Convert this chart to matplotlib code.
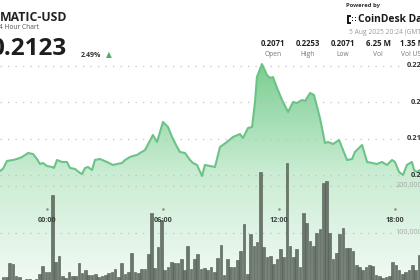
import matplotlib.pyplot as plt
import numpy as np
from matplotlib.colors import LinearSegmentedColormap
from matplotlib.patches import Rectangle

plt.rcParams['font.family'] = ['Open Sans', 'DejaVu Sans']

# price line: hours from 00:00 GMT, price in USD
hours = [-2.43, -2.28, -2.07, -1.76, -1.55, -1.29, -0.98, -0.72, -0.52, -0.36,
         -0.21, 0.0, 0.26, 0.36, 0.52, 0.78, 1.03, 1.19, 1.45, 1.71,
         1.81, 1.97, 2.12, 2.33, 2.48, 2.74, 3.10, 3.41, 3.62, 3.88,
         4.04, 4.29, 4.45, 4.66, 4.81, 5.07, 5.48, 5.69, 6.00, 6.26,
         6.47, 6.73, 6.88, 7.14, 7.40, 7.55, 7.76, 8.02, 8.17, 8.43,
         8.69, 8.95, 9.31, 9.62, 9.98, 10.14, 10.40, 10.61, 10.76, 10.86,
         11.12, 11.38, 11.54, 11.69, 11.90, 12.16, 12.47, 12.73, 12.93, 13.19,
         13.35, 13.61, 13.81, 14.12, 14.38, 14.54, 14.80, 15.11, 15.52, 15.78,
         15.93, 16.30, 16.56, 17.07, 17.33, 17.59, 17.85, 18.00, 18.21, 18.42,
         18.62, 18.88, 18.99, 19.14, 19.30]
price = [0.21062, 0.21089, 0.21199, 0.21212, 0.21226, 0.21253, 0.21308, 0.21294, 0.21226, 0.21157,
         0.21171, 0.21130, 0.21116, 0.21103, 0.21212, 0.21185, 0.21185, 0.21103, 0.21089, 0.21034,
         0.21020, 0.21103, 0.21116, 0.21075, 0.21212, 0.21226, 0.21185, 0.21144, 0.21157, 0.21171,
         0.21212, 0.21253, 0.21267, 0.21281, 0.21308, 0.21349, 0.21555, 0.21459, 0.21733, 0.21664,
         0.21527, 0.21390, 0.21322, 0.21308, 0.21212, 0.21171, 0.21144, 0.20993, 0.21144, 0.21130,
         0.21116, 0.21390, 0.21459, 0.21527, 0.21568, 0.21514, 0.21651, 0.21664, 0.22007, 0.22349,
         0.22527, 0.22377, 0.22336, 0.22349, 0.22199, 0.22034, 0.21870, 0.22007, 0.21993, 0.22034,
         0.22020, 0.22130, 0.22103, 0.21788, 0.21445, 0.21459, 0.21431, 0.21486, 0.21212, 0.21226,
         0.21322, 0.21418, 0.21185, 0.21157, 0.21185, 0.21144, 0.21212, 0.21185, 0.21048, 0.21007,
         0.21144, 0.21185, 0.21075, 0.21048, 0.21075]

# volume per bar, thousands of MATIC
volume = [6, 6, 36, 34, 9, 6, 1, 2, 2, 1,
          2, 13, 30, 17, 17, 181, 38, 51, 9, 4,
          17, 9, 9, 36, 15, 21, 11, 11, 13, 6,
          9, 11, 15, 17, 23, 6, 36, 13, 17, 57,
          17, 15, 23, 23, 55, 143, 26, 70, 128, 21,
          28, 38, 36, 36, 45, 21, 72, 23, 45, 55,
          23, 26, 21, 28, 17, 47, 74, 11, 45, 28,
          28, 43, 62, 119, 13, 98, 72, 81, 230, 70,
          49, 51, 34, 45, 66, 49, 249, 72, 49, 66,
          28, 143, 121, 83, 72, 100, 109, 206, 211, 100,
          45, 57, 98, 111, 68, 68, 62, 32, 28, 21,
          28, 32, 30, 11, 9, 4, 6, 9, 38, 32,
          21, 13, 17, 21, 32, 21, 53]
bar_start = -2.28
bar_step = 0.1708

price_ticks = [0.225, 0.22, 0.215, 0.21]
price_labels = ['0.225', '0.22', '0.215', '0.21']
vol_ticks = [200, 100]
vol_labels = ['200,000', '100,000']
time_ticks = [0, 6, 12, 18]
time_labels = ['00:00', '06:00', '12:00', '18:00']

stat_values = ['0.2071', '0.2253', '0.2071', '6.25 M', '1.35 M']
stat_names = ['Open', 'High', 'Low', 'Vol', 'Vol USD']

W, H = 420, 280
def fx(x):
    return x / W
def fy(y):
    return 1 - y / H

fig = plt.figure(figsize=(4.2, 2.8), dpi=100)
ax = fig.add_axes([0, 0, 1, 1])
x0, x1 = -2.431, 19.296
y0, y1 = 0.19568, 0.23404
grid_end = 18.3

# gradient fill under the price line
cmap = LinearSegmentedColormap.from_list('fillg', ['#f1faf3', '#c9ecd2', '#7acd91'])
grad = np.linspace(0, 1, 256).reshape(-1, 1)
poly = ax.fill_between(hours, price, y0, color='none', lw=0)
img = ax.imshow(grad, extent=[x0, x1, y0, 0.2255], origin='lower', aspect='auto',
                cmap=cmap, zorder=1)
img.set_clip_path(poly.get_paths()[0], transform=ax.transData)

ax.hlines(price_ticks, x0, grid_end, colors='#c2c2c2', linestyles=(0, (1, 5)), lw=0.9, zorder=2)
ax.plot(hours, price, color='#6cc387', lw=1.5, zorder=3, solid_joinstyle='round')
ax.set_xlim(x0, x1)
ax.set_ylim(y0, y1)
ax.axis('off')

ax2 = fig.add_axes([0, 0, 1, 1])
ax2.set_xlim(x0, x1)
ax2.set_ylim(0, 595.7)
ax2.patch.set_alpha(0)
ax2.axis('off')
ax2.hlines(vol_ticks, x0, grid_end, colors='#c2c2c2', linestyles=(0, (1, 5)), lw=0.9, zorder=1)
bar_x = bar_start + np.arange(len(volume)) * bar_step
ax2.bar(bar_x, volume, width=bar_step * 0.8, color='#6b776c', edgecolor='#4e584f',
        linewidth=0.4, zorder=2)

# axis labels on the right, cut by the frame as in the source
for t, lab in zip(price_ticks, price_labels):
    ax.text(1.014, t, lab, transform=ax.get_yaxis_transform(), ha='right', va='center',
            fontsize=5.4, fontweight='bold', color='#333333', zorder=5)
for t, lab in zip(vol_ticks, vol_labels):
    ax2.text(1.006, t, lab, transform=ax2.get_yaxis_transform(), ha='right', va='center',
             fontsize=5.2, color='#a8a8a8', zorder=5)

# time labels
for t, lab in zip(time_ticks, time_labels):
    ax2.text(t, fy(220), lab, transform=ax2.get_xaxis_transform(), ha='center', va='center',
             fontsize=5.2, fontweight='bold', color='#3c4040', zorder=5)
    ax2.plot([t], [fy(209)], transform=ax2.get_xaxis_transform(), marker='o', ms=0.8,
             color='#888888', zorder=5)

# header, left
fig.text(fx(-0.5), fy(21), 'MATIC-USD', fontsize=8.8, fontweight='bold', color='#222222',
         va='baseline')
fig.text(fx(-5), fy(29), '24 Hour Chart', fontsize=4.8, color='#555555', va='baseline')
fig.text(fx(-10), fy(55), '0.2123', fontsize=17.5, fontweight='bold', color='#1e1e1e',
         va='baseline')
fig.text(fx(81), fy(57), '2.49%', fontsize=5, fontweight='bold', color='#333333',
         va='baseline')
fig.text(fx(106), fy(57.5), '▲', fontsize=5.5, color='#4caf62', va='baseline',
         family='DejaVu Sans')

# header, right
fig.text(fx(346), fy(6), 'Powered by', fontsize=4.2, fontweight='bold', color='#333333',
         va='center')
fig.text(fx(358), fy(19), 'CoinDesk Data', fontsize=7.4, fontweight='bold', color='#1a1a1a',
         va='center')
for r in [(347, 15, 1.6, 9), (347, 15, 4, 1.6), (347, 22.4, 4, 1.6),
          (352, 17, 1.4, 1.4), (352, 20, 1.4, 1.4), (355, 17, 1.4, 1.4), (355, 20, 1.4, 1.4)]:
    fig.patches.append(Rectangle((fx(r[0]), fy(r[1] + r[3])), r[2] / W, r[3] / H,
                                 transform=fig.transFigure, color='#1a1a1a', lw=0))
fig.text(fx(349), fy(33), '5 Aug 2025 20:24 (GMT)', fontsize=4.8, color='#9a9a9a',
         va='center')
for i, (v, n) in enumerate(zip(stat_values, stat_names)):
    xc = 273 + 35 * i
    fig.text(fx(xc), fy(43), v, fontsize=5.6, fontweight='bold', color='#222222',
             ha='center', va='center')
    fig.text(fx(xc), fy(54), n, fontsize=4.8, color='#777777', ha='center', va='center')

fig.savefig('out.png', dpi=100)
